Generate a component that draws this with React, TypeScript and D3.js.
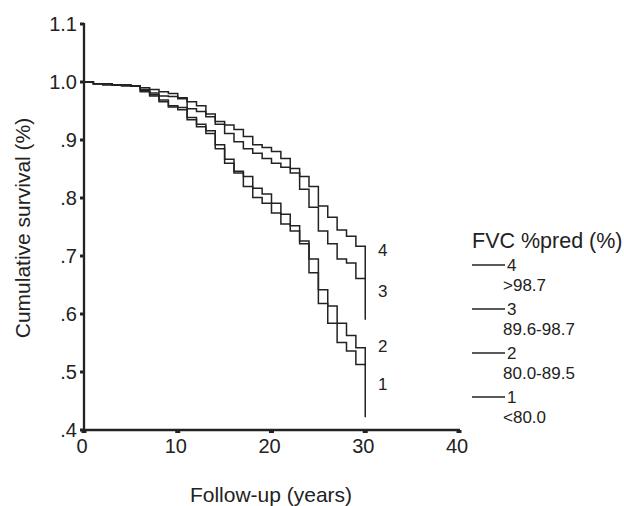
import React from "react";
import * as d3 from "d3";

const years = [0,1,2,3,4,5,6,7,8,9,10,11,12,13,14,15,16,17,18,19,20,21,22,23,24,25,26,27,28,29,30];
const group4 = [1.0,0.997,0.997,0.995,0.995,0.993,0.990,0.987,0.983,0.980,0.973,0.966,0.959,0.945,0.932,0.926,0.918,0.906,0.892,0.887,0.880,0.868,0.851,0.837,0.820,0.786,0.767,0.745,0.734,0.717,0.661];
const group3 = [1.0,0.997,0.997,0.995,0.995,0.993,0.987,0.981,0.976,0.975,0.971,0.954,0.949,0.940,0.927,0.911,0.897,0.885,0.877,0.868,0.860,0.853,0.843,0.815,0.784,0.743,0.721,0.695,0.688,0.661,0.590];
const group2 = [1.0,0.997,0.997,0.995,0.995,0.993,0.985,0.978,0.969,0.959,0.956,0.939,0.927,0.916,0.892,0.867,0.846,0.837,0.817,0.807,0.791,0.772,0.752,0.726,0.695,0.642,0.614,0.584,0.563,0.542,0.511];
const group1 = [1.0,0.997,0.995,0.995,0.993,0.993,0.983,0.976,0.966,0.957,0.952,0.935,0.923,0.911,0.885,0.860,0.843,0.820,0.801,0.791,0.774,0.755,0.743,0.721,0.671,0.618,0.584,0.551,0.536,0.513,0.422];

const groupNames = ["4","3","2","1"];
const groupRanges = [">98.7","89.6-98.7","80.0-89.5","<80.0"];
const seriesList = [group4, group3, group2, group1];

const xTicks = [0,10,20,30,40];
const yTicks = [1.1,1.0,0.9,0.8,0.7,0.6,0.5,0.4];
const yTickLabels = ["1.1","1.0",".9",".8",".7",".6",".5",".4"];

const curveLabelPos = [0.71, 0.64, 0.545, 0.48];

export default function App() {
  const x = d3.scaleLinear().domain([0, 40]).range([84, 459]);
  const y = d3.scaleLinear().domain([0.4, 1.1]).range([430, 24]);
  const line = d3.line<[number, number]>()
    .x(d => x(d[0]))
    .y(d => y(d[1]))
    .curve(d3.curveStepAfter);
  const ink = "#222";
  const font = "'Liberation Sans', Arial, sans-serif";
  return (
    <svg width={624} height={506} style={{ position: "absolute", left: 0, top: 0, background: "#fff" }} fontFamily={font}>
      {seriesList.map((s, i) => (
        <path key={i} d={line(years.map((t, j) => [t, s[j]] as [number, number])) || ""}
          fill="none" stroke={ink} strokeWidth={1.5} />
      ))}
      <line x1={x(0)} x2={x(0)} y1={y(1.1) - 1} y2={y(0.4) + 1} stroke={ink} strokeWidth={2.3} />
      <line x1={x(0) - 1} x2={x(40) + 1} y1={y(0.4)} y2={y(0.4)} stroke={ink} strokeWidth={2.3} />
      {yTicks.map((v, i) => (
        <g key={"y" + i}>
          <line x1={x(0) - 4} x2={x(0)} y1={y(v)} y2={y(v)} stroke={ink} strokeWidth={3} />
          <text x={77} y={y(v)} dy="0.36em" textAnchor="end" fontSize={20} fill={ink}>{yTickLabels[i]}</text>
        </g>
      ))}
      {xTicks.map((v, i) => (
        <g key={"x" + i}>
          <line x1={x(v)} x2={x(v)} y1={y(0.4)} y2={y(0.4) + 3} stroke={ink} strokeWidth={5} />
          <text x={x(v) - 2} y={453} textAnchor="middle" fontSize={20} fill={ink}>{v}</text>
        </g>
      ))}
      <text x={271} y={502} textAnchor="middle" fontSize={21} fill={ink}>Follow-up (years)</text>
      <text transform={`translate(30,228) rotate(-90)`} textAnchor="middle" fontSize={21} fill={ink}>Cumulative survival (%)</text>
      {groupNames.map((n, i) => (
        <text key={"c" + i} x={378} y={y(curveLabelPos[i])} dy="0.36em" fontSize={17} fill={ink}>{n}</text>
      ))}
      <text x={472} y={248} fontSize={21.5} fill={ink}>FVC %pred (%)</text>
      {groupNames.map((n, i) => {
        const ly = 265 + i * 44;
        return (
          <g key={"l" + i}>
            <line x1={472} x2={505} y1={ly} y2={ly} stroke={ink} strokeWidth={1.6} />
            <text x={507} y={ly + 6} fontSize={17} fill={ink}>{n}</text>
            <text x={503} y={ly + 26} fontSize={17} fill={ink}>{groupRanges[i]}</text>
          </g>
        );
      })}
    </svg>
  );
}
